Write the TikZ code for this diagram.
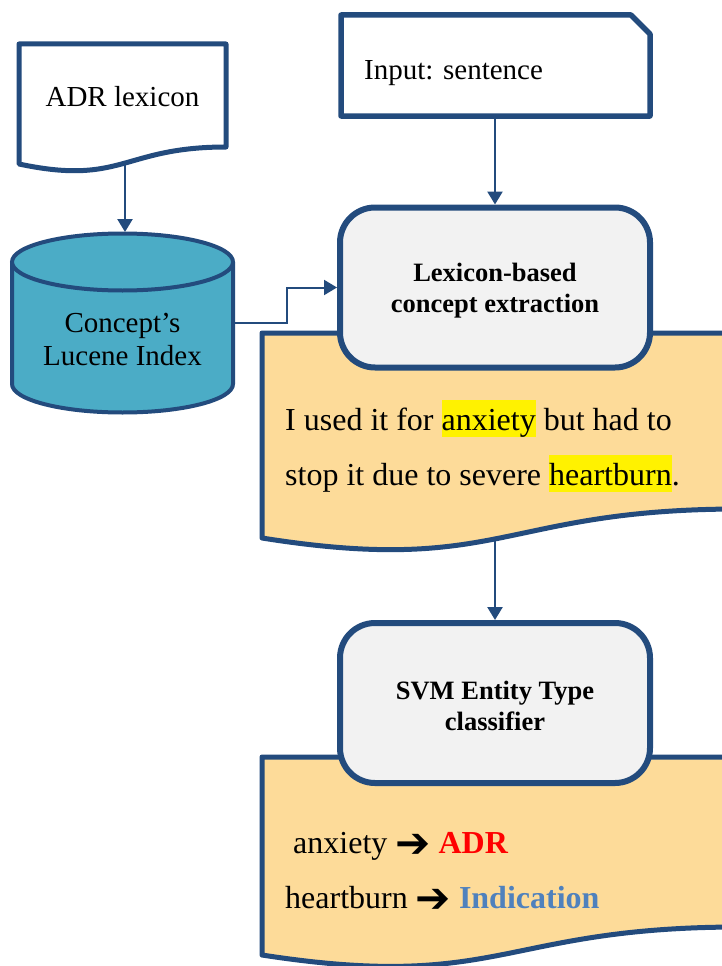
\documentclass[tikz,border=0pt]{standalone}
\usepackage{fontspec}
\setmainfont{Liberation Serif}
\newfontfamily\symfont{DejaVu Sans}
\usetikzlibrary{arrows.meta}

\definecolor{edge}{HTML}{234B7D}
\definecolor{paper}{HTML}{FDDB99}
\definecolor{dbfill}{HTML}{4BACC6}
\definecolor{boxfill}{HTML}{F2F2F2}
\definecolor{indic}{HTML}{4F81BD}

% yellow highlight behind a word
\newcommand{\hlword}[1]{{\setlength{\fboxsep}{0pt}\colorbox{yellow}{\rule[-7pt]{0pt}{37pt}#1}}}
% heavy right arrow
\newcommand{\heavyarrow}{\raisebox{-4pt}{\symfont\bfseries\fontsize{42}{42}\selectfont ➔}}

\tikzset{
  docshape/.style={draw=edge, line width=5pt, line join=round},
  procbox/.style={draw=edge, line width=6pt, fill=boxfill, rounded corners=35pt,
    minimum width=310pt, minimum height=160pt, inner sep=0pt},
  boxlabel/.style={inner sep=0pt, align=center,
    font=\bfseries\fontsize{26.5}{31}\selectfont},
  flow/.style={draw=edge, line width=2.5pt, -{Triangle[length=13pt,width=15pt]}},
  txt/.style={inner sep=0pt, font=\fontsize{29}{33}\selectfont},
  bigtxt/.style={inner sep=0pt, anchor=base west, font=\fontsize{32}{36}\selectfont},
}

\begin{document}
\begin{tikzpicture}[x=1pt,y=-1pt]
\useasboundingbox (0,0) rectangle (722,966);
\clip (0,0) rectangle (722,966);

% ADR lexicon document
\draw[docshape, fill=white] (19,44) -- (226,44) -- (226,147)
  .. controls (122.5,147) and (122.5,186) .. (19,164) -- cycle;
\node[txt, anchor=base] (adr) at (122.5,106) {ADR lexicon};
\coordinate (adrbot) at (125,164);

% Lucene index cylinder
\fill[dbfill] (12,262) -- (12,384)
  arc[start angle=180, end angle=360, x radius=110.5pt, y radius=28.5pt]
  -- (233,262) -- cycle;
\draw[edge, line width=4pt] (12,262) -- (12,384)
  arc[start angle=180, end angle=360, x radius=110.5pt, y radius=28.5pt]
  -- (233,262);
\draw[edge, line width=4pt, fill=dbfill] (122.5,262) ellipse[x radius=110.5pt, y radius=28.5pt];
\node[txt, anchor=base] (idx1) at (122.5,332) {Concept’s};
\node[txt, anchor=base] (idx2) at (122.5,365) {Lucene Index};
\coordinate (cyltop) at (125,232);
\coordinate (cylR) at (233,323);
\coordinate (bend) at (287,287.5);

% input sentence card with a cut corner
\draw[draw=edge, line width=5.5pt, line join=round, fill=white]
  (341,15) -- (631,15) -- (650,34) -- (650,116) -- (341,116) -- cycle;
\node[txt, anchor=base west] (inptxt) at (364,80) {Input: sentence};
\coordinate (inpbot) at (495,118);

% annotated sentence document
\draw[docshape, fill=paper] (262,333) -- (740,333) -- (740,509)
  .. controls (501,509) and (501,576) .. (262,538) -- cycle;
\node[bigtxt] (s1) at (285,430) {I used it for \hlword{anxiety} but had to};
\node[bigtxt] (s2) at (285,485) {stop it due to severe \hlword{heartburn}.};
\coordinate (d1bot) at (495,539);

% concept extraction step
\node[procbox] (lex) at (495,287.5) {};
\node[boxlabel] (lexlbl) at (495,291) {Lexicon-based\\concept extraction};

% classification output document
\draw[docshape, fill=paper] (262,757) -- (740,757) -- (740,927)
  .. controls (501,927) and (501,992) .. (262,955) -- cycle;
\node[bigtxt] (r1) at (293,853) {anxiety \heavyarrow{} \textcolor{red}{\bfseries ADR}};
\node[bigtxt] (r2) at (285,908) {heartburn \heavyarrow{} \textcolor{indic}{\bfseries Indication}};

% classifier step
\node[procbox] (svm) at (495,703) {};
\node[boxlabel] (svmlbl) at (495,706) {SVM Entity Type\\classifier};

% connectors
\draw[flow] (adrbot) -- (cyltop);
\draw[flow, line width=2pt] (cylR) -| (bend) -- (lex.west);
\draw[flow] (inpbot) -- (lex.north);
\draw[flow] (d1bot) -- (svm.north);
\end{tikzpicture}
\end{document}
